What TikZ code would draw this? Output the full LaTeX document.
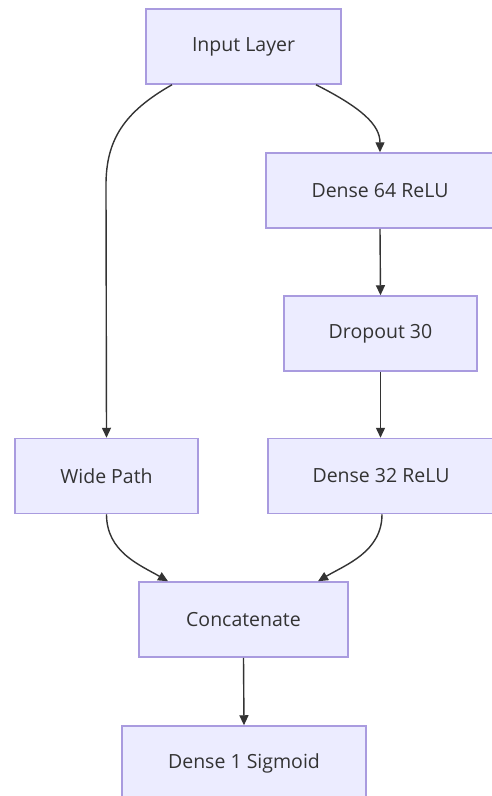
\documentclass[tikz,border=0pt]{standalone}
\usepackage{fontspec}
\setmainfont{Open Sans}
\usetikzlibrary{arrows.meta}
\definecolor{boxfill}{HTML}{ECECFF}
\definecolor{boxline}{HTML}{A99BDF}
\definecolor{txt}{HTML}{333333}
\definecolor{edge}{HTML}{333333}
\begin{document}
\begin{tikzpicture}[x=1pt,y=-1pt,
  box/.style={draw=boxline,fill=boxfill,line width=1.5pt,minimum height=75pt,
    inner sep=0pt,text=txt,font=\fontsize{19.5}{22}\selectfont},
  conn/.style={draw=edge,line width=1.4pt,-{Triangle[length=10pt,width=9pt]}}]
\useasboundingbox (0,0) rectangle (492,796);
\clip (0,0) rectangle (492,796);
\fill[white] (0,0) rectangle (492,796);
\node[box,minimum width=195pt] (in) at (243.5,46.5) {Input Layer};
\node[box,minimum width=228pt] (d64) at (380,190.5) {Dense 64 ReLU};
\node[box,minimum width=193pt] (drop) at (380.5,333.5) {Dropout 30};
\node[box,minimum width=183pt] (wide) at (106.5,476) {Wide Path};
\node[box,minimum width=226pt] (d32) at (381,476) {Dense 32 ReLU};
\node[box,minimum width=209pt] (cat) at (243.5,619.5) {Concatenate};
\node[box,minimum width=244pt,minimum height=85pt] (d1) at (244,768.5) {};
\node[text=txt,font=\fontsize{19.5}{22}\selectfont] (d1t) at (244,763.5) {Dense 1 Sigmoid};
\draw[conn] ([xshift=-71.5pt]in.south) .. controls (124,112) and (106,140) .. (106,185) -- (wide.north);
\draw[conn] ([xshift=72.5pt]in.south) .. controls (362,108) and (380,125) .. (d64.north);
\draw[conn] (d64.south) -- (drop.north);
\draw[conn] (drop.south) -- ([xshift=-0.5pt]d32.north);
\draw[conn] (wide.south) .. controls (106.5,552) and (140,565) .. ([xshift=-75.5pt]cat.north);
\draw[conn] ([xshift=1pt]d32.south) .. controls (382,552) and (345,565) .. ([xshift=74.5pt]cat.north);
\draw[conn] (cat.south) -- (d1.north);
\end{tikzpicture}
\end{document}
